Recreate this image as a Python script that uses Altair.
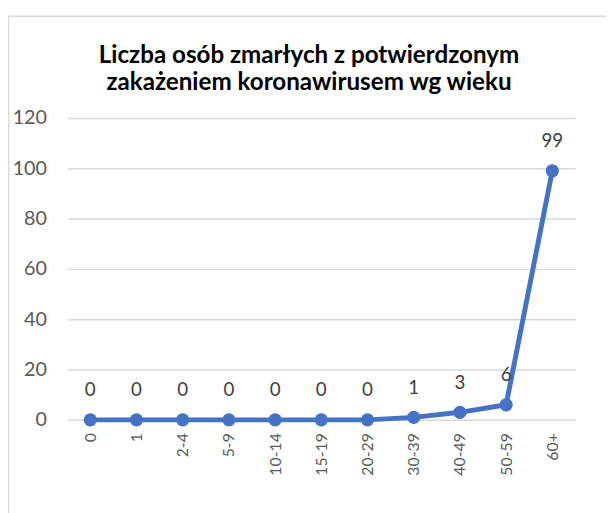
import altair as alt
import pandas as pd

categories = ["0", "1", "2-4", "5-9", "10-14", "15-19", "20-29", "30-39", "40-49", "50-59", "60+"]
values = [0, 0, 0, 0, 0, 0, 0, 1, 3, 6, 99]
title_lines = ["Liczba osób zmarłych z potwierdzonym", "zakażeniem koronawirusem wg wieku"]
y_ticks = [0, 20, 40, 60, 80, 100, 120]

df = pd.DataFrame({"wiek": categories, "liczba": values})

FONT = "Lato"
BLUE = "#4472C4"

x = alt.X("wiek:N", sort=categories, title=None,
          scale=alt.Scale(type="point", padding=0.5),
          axis=alt.Axis(labelAngle=-90, labelFontSize=16, labelColor="#595959", labelFont=FONT,
                        ticks=False, domain=False, grid=False, labelPadding=13))
y = alt.Y("liczba:Q", title=None,
          scale=alt.Scale(domain=[0, 120], nice=False),
          axis=alt.Axis(values=y_ticks, labelFontSize=20, labelColor="#595959", labelFont=FONT,
                        ticks=False, domain=False, grid=True, gridColor="#d9d9d9", gridWidth=1.5,
                        labelPadding=21))

base_one = alt.Chart(pd.DataFrame({"a": [0]}))

border = base_one.mark_rect(
    fill=None, stroke="#d9d9d9", strokeWidth=1.5
).encode(x=alt.value(-59.5), x2=alt.value(560), y=alt.value(-103), y2=alt.value(410))

title1 = base_one.mark_text(font=FONT, fontSize=24.5, fontWeight="bold", color="#000000",
                            align="center", baseline="alphabetic").encode(
    x=alt.value(245), y=alt.value(-56), text=alt.value(title_lines[0]))
title2 = base_one.mark_text(font=FONT, fontSize=24.5, fontWeight="bold", color="#000000",
                            align="center", baseline="alphabetic").encode(
    x=alt.value(245), y=alt.value(-28), text=alt.value(title_lines[1]))

line = alt.Chart(df).mark_line(color=BLUE, strokeWidth=5).encode(x=x, y=y)
pts = alt.Chart(df).mark_circle(color=BLUE, size=180, opacity=1).encode(x=x, y=y)
labels = alt.Chart(df).mark_text(dy=-30, baseline="middle", fontSize=19, font=FONT, color="#404040").encode(
    x=x, y=y, text="liczba:Q")

chart = alt.layer(border, title1, title2, line, pts, labels).properties(
    width=515, height=306,
    autosize=alt.AutoSizeParams(type="none"),
    padding={"left": 60, "top": 108, "right": 31, "bottom": 91},
    background="white",
).configure_view(stroke=None)

chart.save("out.html", embed_options={"renderer": "svg", "actions": False})
